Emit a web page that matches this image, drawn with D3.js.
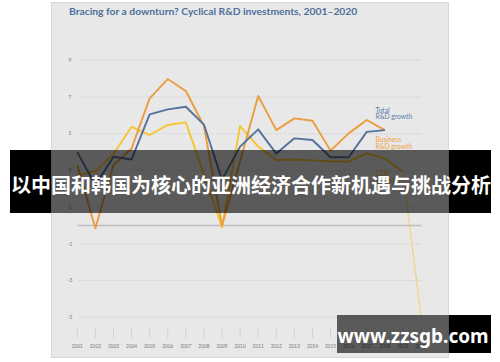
<!DOCTYPE html>
<html>
<head>
<meta charset="utf-8">
<script src="https://cdn.jsdelivr.net/npm/d3@7"></script>
<style>
  html, body { margin: 0; padding: 0; background: #fff; }
  svg { display: block; }
</style>
</head>
<body>
<div id="chart"></div>
<script>
// values (percent growth)
var years = [2001, 2002, 2003, 2004, 2005, 2006, 2007, 2008, 2009, 2010,
             2011, 2012, 2013, 2014, 2015, 2016, 2017, 2018, 2019, 2020];
var totalRD = [4.0, 2.2, 3.75, 3.6, 6.06, 6.33, 6.47, 5.5, 2.5, 4.3,
               5.24, 3.92, 4.75, 4.66, 3.72, 3.72, 5.1, 5.2];
var businessRD = [3.3, -0.15, 3.3, 4.2, 6.93, 7.98, 7.33, 5.42, 0.0, 3.5,
                  7.06, 5.2, 5.84, 5.71, 4.08, 5.02, 5.75, 5.2];
var gdp = [2.75, 2.95, 3.9, 5.38, 4.93, 5.48, 5.62, 2.8, -0.1, 5.42,
           4.3, 3.57, 3.6, 3.55, 3.5, 3.48, 3.93, 3.66, 2.93, -5.0];
var yTicks = [9, 7, 5, 3, 1, -1, -3, -5];

var title = 'Bracing for a downturn? Cyclical R&D investments, 2001\u20132020';
var banner = '以中国和韩国为核心的亚洲经济合作新机遇与挑战分析';
var watermark = 'www.zzsgb.com';

var W = 500, H = 362;
var panel = { x: 51, y: 2, w: 397, h: 355 };

var svg = d3.select('#chart').append('svg')
    .attr('width', W)
    .attr('height', H);

var x = d3.scaleLinear().domain([2001, 2020]).range([77.3, 421]);
var y = d3.scaleLinear().domain([-5, 9]).range([317.25, 60.35]);

svg.append('rect')
    .attr('x', panel.x + 0.5).attr('y', panel.y + 0.5)
    .attr('width', panel.w).attr('height', panel.h)
    .style('fill', '#e8e8e8')
    .style('stroke', '#d6d6d6');

svg.append('text')
    .attr('x', 69).attr('y', 14.5)
    .style('font-family', 'Lato, sans-serif')
    .style('font-weight', 'bold')
    .style('font-size', '10.3px')
    .style('fill', '#4d6f9c')
    .text(title);

// grid
svg.append('g').selectAll('line')
    .data(yTicks)
    .enter().append('line')
    .attr('x1', 78).attr('x2', 421)
    .attr('y1', function(d) { return y(d); })
    .attr('y2', function(d) { return y(d); })
    .style('stroke', '#cfcfcf')
    .style('stroke-width', 1)
    .style('stroke-dasharray', '1,1');

svg.append('line')
    .attr('x1', 78).attr('x2', 421.5)
    .attr('y1', y(0)).attr('y2', y(0))
    .style('stroke', '#bdbdc2')
    .style('stroke-width', 1.6);

svg.append('g').selectAll('text')
    .data(yTicks)
    .enter().append('text')
    .attr('x', 70)
    .attr('y', function(d) { return y(d) + 1.7; })
    .attr('text-anchor', 'middle')
    .style('font-family', 'Lato, sans-serif')
    .style('font-size', '5px')
    .style('fill', '#7a7a7a')
    .text(function(d) { return String(d); });

// x ticks
svg.append('g').selectAll('line')
    .data(years)
    .enter().append('line')
    .attr('x1', function(d) { return x(d); })
    .attr('x2', function(d) { return x(d); })
    .attr('y1', 328).attr('y2', 338)
    .style('stroke', '#cccccc')
    .style('stroke-width', 0.8);

svg.append('g').selectAll('text')
    .data(years)
    .enter().append('text')
    .attr('x', function(d) { return x(d); })
    .attr('y', 347.5)
    .attr('text-anchor', 'middle')
    .style('font-family', 'Lato, sans-serif')
    .style('font-size', '4.8px')
    .style('fill', '#7a7a7a')
    .text(function(d) { return d; });

// lines
var line = d3.line()
    .x(function(d) { return x(d[0]); })
    .y(function(d) { return y(d[1]); });

function pairs(vals) {
    return vals.map(function(v, i) { return [years[i], v]; });
}

var gdpPts = pairs(gdp);

svg.append('path')
    .datum(gdpPts.slice(0, 19))
    .attr('d', line)
    .style('fill', 'none')
    .style('stroke', '#f7c531')
    .style('stroke-width', 1.9)
    .style('stroke-linejoin', 'round');

svg.append('path')
    .datum(gdpPts.slice(18))
    .attr('d', line)
    .style('fill', 'none')
    .style('stroke', '#f7c531')
    .style('stroke-width', 1.4)
    .style('stroke-dasharray', '1.2,1.2');

svg.append('path')
    .datum(pairs(businessRD))
    .attr('d', line)
    .style('fill', 'none')
    .style('stroke', '#ea9d3f')
    .style('stroke-width', 1.9)
    .style('stroke-linejoin', 'round');

svg.append('path')
    .datum(pairs(totalRD))
    .attr('d', line)
    .style('fill', 'none')
    .style('stroke', '#52729c')
    .style('stroke-width', 1.9)
    .style('stroke-linejoin', 'round');

// series labels
var labels = [
    { lines: ['Total', 'R&D growth'], y: 112.5, color: '#5a7ba8' },
    { lines: ['Business', 'R&D growth'], y: 142, color: '#ef9f3c' },
    { lines: ['GDP', 'growth'], y: 176, color: '#f2b92c' }
];
labels.forEach(function(l) {
    var t = svg.append('text')
        .attr('x', 375.5).attr('y', l.y)
        .style('font-family', 'Lato, sans-serif')
        .style('font-size', '6.7px')
        .style('fill', l.color);
    l.lines.forEach(function(s, i) {
        t.append('tspan')
            .attr('x', 375.5)
            .attr('dy', i ? 6.6 : 0)
            .text(s);
    });
});

// overlay banner and watermark
function overlay(x0, x1, y0, y1) {
    var px0 = panel.x, px1 = panel.x + panel.w + 1;
    if (x0 < px0) {
        svg.append('rect').attr('x', x0).attr('y', y0)
            .attr('width', px0 - x0).attr('height', y1 - y0)
            .style('fill', '#000');
    }
    if (x1 > px1) {
        svg.append('rect').attr('x', px1).attr('y', y0)
            .attr('width', x1 - px1).attr('height', y1 - y0)
            .style('fill', '#000');
    }
    var a = Math.max(x0, px0), b = Math.min(x1, px1);
    svg.append('rect').attr('x', a).attr('y', y0)
        .attr('width', b - a).attr('height', y1 - y0)
        .style('fill', 'rgba(0,0,0,0.61)');
}

overlay(10, 491, 150, 213);
svg.append('text')
    .attr('x', 251).attr('y', 192.5)
    .attr('text-anchor', 'middle')
    .style('font-family', '"Noto Sans CJK SC", sans-serif')
    .style('font-weight', 'bold')
    .style('font-size', '20px')
    .style('fill', '#fff')
    .text(banner);

overlay(337, 491, 315, 353);
svg.append('text')
    .attr('x', 413).attr('y', 342.5)
    .attr('text-anchor', 'middle')
    .style('font-family', '"Noto Sans", sans-serif')
    .style('font-weight', 'bold')
    .style('font-size', '19px')
    .style('fill', '#fff')
    .text(watermark);
</script>
</body>
</html>
